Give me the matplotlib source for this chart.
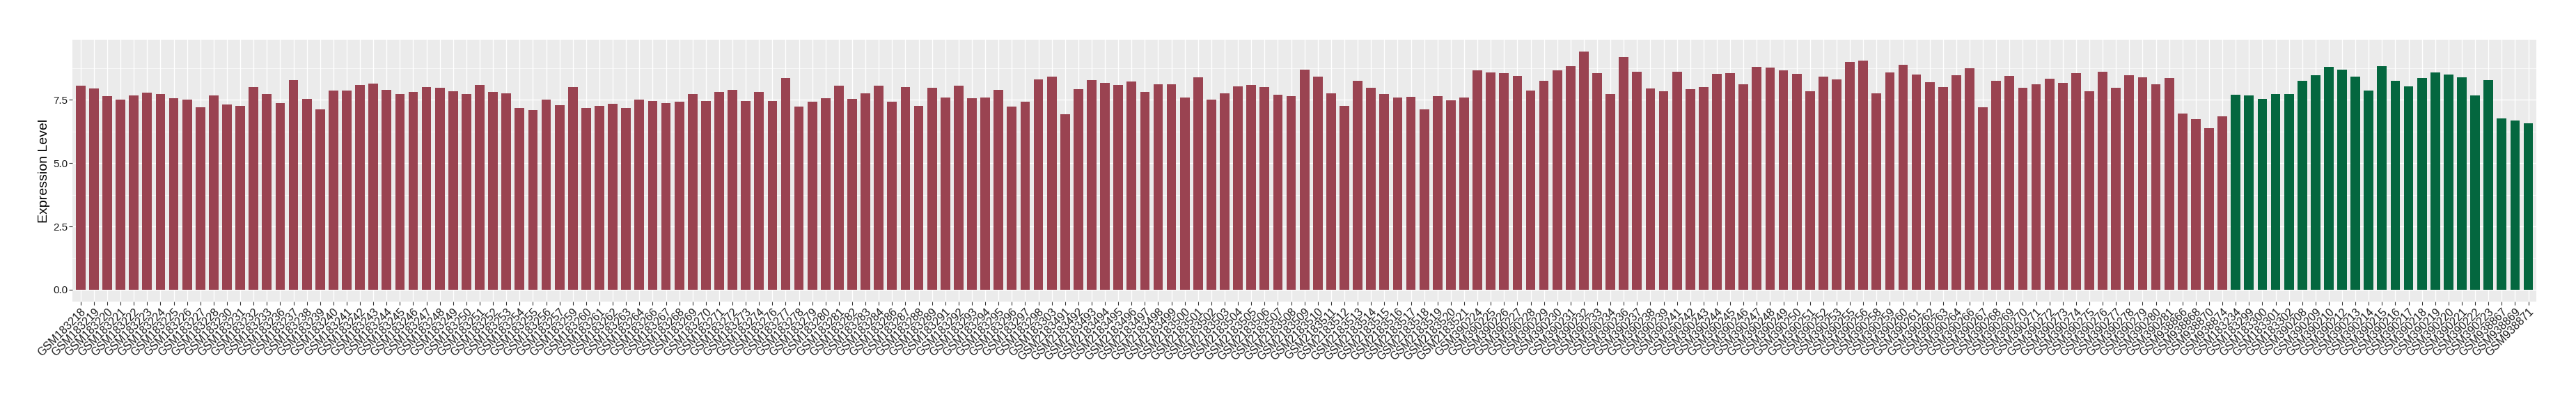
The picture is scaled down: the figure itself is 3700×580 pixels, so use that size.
import matplotlib
matplotlib.use('Agg')
import matplotlib.pyplot as plt
from matplotlib.ticker import MultipleLocator

# sample names, red group first then green group
red_samples = (
    ['GSM1832%d' % i for i in [18, 19, 20, 21, 22, 23, 24, 25, 26, 27, 28, 30, 31, 32, 33,
                                36, 37, 38, 39, 40, 41, 42, 43, 44, 45, 46, 47, 48, 49, 50,
                                51, 52, 53, 54, 55, 56, 57, 59, 60, 61, 62, 63, 64, 66, 67,
                                68, 69, 70, 71, 72, 73, 74, 76, 77, 78, 79, 80, 81, 82, 83,
                                84, 86, 87, 88, 89, 91, 92, 93, 94, 95, 96, 97, 98]]
    + ['GSM183303']
    + ['GSM2183%d' % i for i in range(491, 522)]
    + ['GSM390%d' % i for i in [224, 225, 226, 227, 228, 229, 230, 231, 232, 233, 234, 236,
                                237, 238, 239, 241, 242, 243, 244, 245, 246, 247, 248, 249,
                                250, 251, 252, 253, 255, 256, 258, 259, 260, 261, 262, 263,
                                264, 266, 267, 268, 269, 270, 271, 272, 273, 274, 275, 276,
                                277, 278, 279, 280, 281]]
    + ['GSM938866', 'GSM938868', 'GSM938870', 'GSM938874']
)
green_samples = (
    ['GSM183234', 'GSM183299', 'GSM183300', 'GSM183301', 'GSM183302']
    + ['GSM390%d' % i for i in [208, 209, 210, 212, 213, 214, 215, 216, 217, 218, 219,
                                220, 221, 222, 223]]
    + ['GSM938867', 'GSM938869', 'GSM938871']
)

red_values = [
    8.06, 7.95, 7.65, 7.51, 7.67, 7.78, 7.73, 7.56, 7.51, 7.21,
    7.67, 7.32, 7.26, 8.01, 7.73, 7.37, 8.28, 7.54, 7.12, 7.87,
    7.87, 8.09, 8.14, 7.90, 7.73, 7.81, 8.01, 7.98, 7.84, 7.73,
    8.09, 7.81, 7.76, 7.18, 7.10, 7.51, 7.29, 8.01, 7.18, 7.26,
    7.34, 7.18, 7.51, 7.45, 7.37, 7.43, 7.73, 7.45, 7.81, 7.90,
    7.45, 7.81, 7.45, 8.36, 7.23, 7.43, 7.56, 8.06, 7.54, 7.76,
    8.06, 7.43, 8.01, 7.26, 7.98, 7.59, 8.06, 7.56, 7.59, 7.90,
    7.23, 7.43, 8.31, 8.42, 6.93, 7.92, 8.28, 8.17, 8.09, 8.23,
    7.81, 8.12, 8.12, 7.59, 8.39, 7.51, 7.76, 8.03, 8.09, 8.01,
    7.70, 7.65, 8.69, 8.42, 7.76, 7.26, 8.25, 7.98, 7.73, 7.59,
    7.62, 7.12, 7.65, 7.48, 7.59, 8.67, 8.58, 8.56, 8.45, 7.87,
    8.25, 8.67, 8.83, 9.41, 8.56, 7.73, 9.19, 8.61, 7.95, 7.84,
    8.61, 7.92, 8.01, 8.53, 8.56, 8.12, 8.81, 8.78, 8.67, 8.53,
    7.84, 8.42, 8.31, 9.00, 9.05, 7.76, 8.58, 8.89, 8.50, 8.20,
    8.01, 8.47, 8.75, 7.21, 8.25, 8.45, 7.98, 8.12, 8.34, 8.17,
    8.56, 7.84, 8.61, 7.98, 8.47, 8.39, 8.12, 8.36, 6.96, 6.74,
    6.38, 6.85,
]
green_values = [
    7.70, 7.67, 7.54, 7.73, 7.73, 8.25, 8.47, 8.81, 8.69, 8.42,
    7.87, 8.83, 8.25, 8.03, 8.36, 8.58, 8.50, 8.39, 7.67, 8.28,
    6.76, 6.68, 6.57,
]

red_color = '#9A4351'
green_color = '#04673F'

samples = red_samples + green_samples
pos_red = list(range(len(red_samples)))
pos_green = list(range(len(red_samples), len(samples)))

fig = plt.figure(figsize=(37, 5.8), dpi=100)
ax = fig.add_axes([0.0282, 0.2534, 0.9564, 0.6483])
ax.set_facecolor('#EBEBEB')

ax.bar(pos_red, red_values, width=0.72, color=red_color, zorder=3)
ax.bar(pos_green, green_values, width=0.72, color=green_color, zorder=3)

ax.set_xlim(-0.6, len(samples) - 0.4)
top = max(red_values + green_values)
ax.set_ylim(-0.05 * top, 1.05 * top)

ax.yaxis.set_major_locator(MultipleLocator(2.5))
ax.yaxis.set_minor_locator(MultipleLocator(1.25))
ax.yaxis.set_major_formatter(matplotlib.ticker.FormatStrFormatter('%.1f'))
ax.grid(True, which='major', color='white', linewidth=1.0, zorder=0)
ax.grid(True, which='minor', axis='y', color='white', linewidth=0.5, zorder=0)
ax.set_axisbelow(True)

ax.set_xticks(range(len(samples)))
ax.set_xticklabels(samples, rotation=45, ha='right', va='top',
                   rotation_mode='anchor', fontsize=11.5, color='#1a1a1a',
                   family='Liberation Sans')
for lbl in ax.get_yticklabels():
    lbl.set_family('Liberation Sans')
ax.tick_params(axis='y', which='minor', length=0)
ax.tick_params(axis='both', which='major', length=3.5, width=0.8, color='#333333',
               labelcolor='#1a1a1a', pad=1.5)
ax.tick_params(axis='y', labelsize=11)

for s in ax.spines.values():
    s.set_visible(False)

ax.set_ylabel('Expression Level', fontsize=14, family='Liberation Sans', labelpad=3)

fig.savefig('out.png', dpi=100)
